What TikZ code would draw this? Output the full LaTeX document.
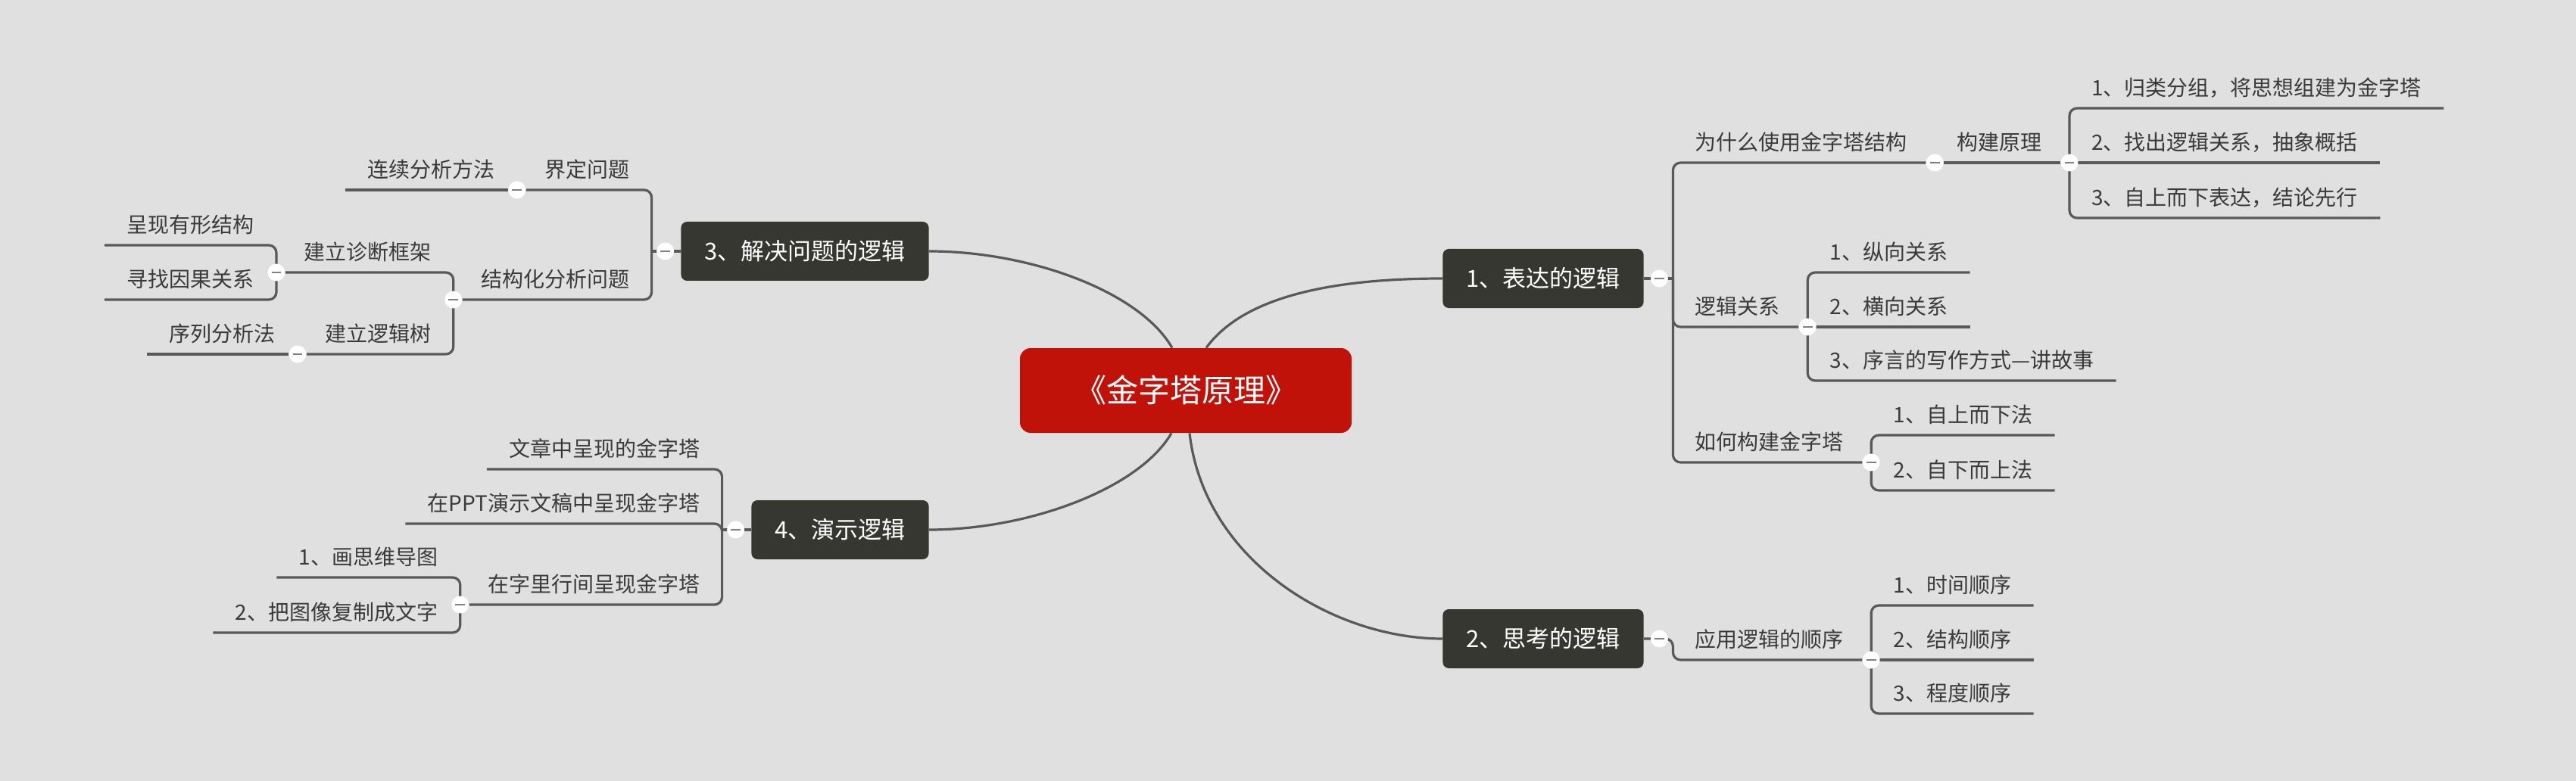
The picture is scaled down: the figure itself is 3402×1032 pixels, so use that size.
\documentclass[tikz,border=0pt]{standalone}
\usepackage{fontspec}
\setmainfont{Noto Sans CJK SC}
\usetikzlibrary{positioning,calc,backgrounds}

\definecolor{paper}{HTML}{E0E0E0}
\definecolor{ink}{HTML}{3A3A3A}
\definecolor{wire}{HTML}{595959}
\definecolor{boxfill}{HTML}{373732}
\definecolor{rootred}{HTML}{C1120A}
\definecolor{knobmark}{HTML}{808080}

\begin{document}
\begin{tikzpicture}[x=0.5pt, y=-0.5pt,
    rootbox/.style = {rectangle, rounded corners=7pt, fill=rootred, text=white, font=\fontsize{21}{24}\selectfont, minimum height=56pt, inner xsep=36pt, text height=17pt, text depth=1.7pt},
    mainbox/.style = {rectangle, rounded corners=4pt, fill=boxfill, text=white, font=\fontsize{15.5}{18}\selectfont, minimum height=39pt, inner xsep=15.5pt, text height=12.7pt, text depth=1.3pt},
    topic/.style = {font=\fontsize{14}{16}\selectfont, text=ink, inner xsep=14.5pt, inner ysep=6pt, text height=11pt, text depth=2pt},
    rtopic/.style = {topic, anchor=south west},
    ltopic/.style = {topic, anchor=south east},
    knob/.style = {circle, fill=white, inner sep=0pt, minimum size=11.5pt, path picture={\draw[knobmark, line width=1.1pt] ([xshift=-3.2pt]path picture bounding box.center) -- ([xshift=3.2pt]path picture bounding box.center);}},
    trunk/.style = {draw=wire, line width=1.6pt},
    branch/.style = {draw=wire, line width=1.6pt, rounded corners=5pt}
    ]
    \useasboundingbox (0,0) rectangle (3402,1032);

    \node[rootbox] (pyramid) at (1566,516) {《金字塔原理》};
    \node[mainbox, anchor=west] (express) at (1905,368) {1、表达的逻辑};
    \node[mainbox, anchor=west] (think) at (1905,844) {2、思考的逻辑};
    \node[mainbox, anchor=east] (solve) at (1227,332) {3、解决问题的逻辑};
    \node[mainbox, anchor=east] (present) at (1227,700) {4、演示逻辑};

    \node[knob, right=4.25pt of express] (c-express) {};
    \node[knob, right=4.25pt of think] (c-think) {};
    \node[knob, left=4.25pt of solve] (c-solve) {};
    \node[knob, left=4.25pt of present] (c-present) {};
    \coordinate[right=9pt of c-express.center] (j-express);
    \coordinate[right=9pt of c-think.center] (j-think);
    \coordinate[left=9pt of c-solve.center] (j-solve);
    \coordinate[left=9pt of c-present.center] (j-present);

    % 1
    \node[rtopic] (why) at ($(j-express)+(0,-153)$) {为什么使用金字塔结构};
    \node[knob] (c-why) at ([xshift=3.5pt]why.south east) {};
    \node[rtopic] (build) at (c-why) {构建原理};
    \node[knob] (c-build) at ([xshift=3.5pt]build.south east) {};
    \node[rtopic] (group) at ($(c-build)+(0,-72)$) {1、归类分组，将思想组建为金字塔};
    \node[rtopic] (abstract) at (c-build) {2、找出逻辑关系，抽象概括};
    \node[rtopic] (topdown-say) at ($(c-build)+(0,73)$) {3、自上而下表达，结论先行};
    \node[rtopic] (rel) at ($(j-express)+(0,64)$) {逻辑关系};
    \node[knob] (c-rel) at ([xshift=3.5pt]rel.south east) {};
    \node[rtopic] (vertical) at ($(c-rel)+(0,-72)$) {1、纵向关系};
    \node[rtopic] (horizontal) at (c-rel) {2、横向关系};
    \node[rtopic] (story) at ($(c-rel)+(0,71)$) {3、序言的写作方式—讲故事};
    \node[rtopic] (how) at ($(j-express)+(0,243)$) {如何构建金字塔};
    \node[knob] (c-how) at ([xshift=3.5pt]how.south east) {};
    \node[rtopic] (top-down) at ($(c-how)+(0,-36)$) {1、自上而下法};
    \node[rtopic] (bottom-up) at ($(c-how)+(0,37)$) {2、自下而上法};

    % 2
    \node[rtopic] (order) at ($(j-think)+(0,28)$) {应用逻辑的顺序};
    \node[knob] (c-order) at ([xshift=3.5pt]order.south east) {};
    \node[rtopic] (time) at ($(c-order)+(0,-72)$) {1、时间顺序};
    \node[rtopic] (structure) at (c-order) {2、结构顺序};
    \node[rtopic] (degree) at ($(c-order)+(0,71)$) {3、程度顺序};

    % 3
    \node[ltopic] (define) at ($(j-solve)+(0,-81)$) {界定问题};
    \node[knob] (c-define) at ([xshift=-3.5pt]define.south west) {};
    \node[ltopic] (continuous) at (c-define) {连续分析方法};
    \node[ltopic] (struct) at ($(j-solve)+(0,64)$) {结构化分析问题};
    \node[knob] (c-struct) at ([xshift=-3.5pt]struct.south west) {};
    \node[ltopic] (diag) at ($(c-struct)+(0,-36)$) {建立诊断框架};
    \node[knob] (c-diag) at ([xshift=-3.5pt]diag.south west) {};
    \node[ltopic] (visible) at ($(c-diag)+(0,-36)$) {呈现有形结构};
    \node[ltopic] (causal) at ($(c-diag)+(0,36)$) {寻找因果关系};
    \node[ltopic] (tree) at ($(c-struct)+(0,72)$) {建立逻辑树};
    \node[knob] (c-tree) at ([xshift=-3.5pt]tree.south west) {};
    \node[ltopic] (sequence) at (c-tree) {序列分析法};

    % 4
    \node[ltopic] (article) at ($(j-present)+(0,-80)$) {文章中呈现的金字塔};
    \node[ltopic] (ppt) at ($(j-present)+(0,-8)$) {在PPT演示文稿中呈现金字塔};
    \node[ltopic] (inline) at ($(j-present)+(0,99)$) {在字里行间呈现金字塔};
    \node[knob] (c-inline) at ([xshift=-3.5pt]inline.south west) {};
    \node[ltopic] (mindmap) at ($(c-inline)+(0,-36)$) {1、画思维导图};
    \node[ltopic] (copy-text) at ($(c-inline)+(0,37)$) {2、把图像复制成文字};

    \begin{scope}[on background layer]
    \fill[paper] (0,0) rectangle (3402,1032);

    \draw[trunk] ([xshift=13.5pt]pyramid.north) .. controls (1640,395) and (1750,368) .. (express.west);
    \draw[trunk] ([xshift=2.5pt]pyramid.south) .. controls (1590,740) and (1760,844) .. (think.west);
    \draw[trunk] ([xshift=-9pt]pyramid.north) .. controls (1505,385) and (1360,332) .. (solve.east);
    \draw[trunk] ([xshift=-9.5pt]pyramid.south) .. controls (1505,645) and (1360,700) .. (present.east);

    \draw[branch] (express.east) -- (j-express);
    \draw[branch] (j-express) |- (c-why);
    \draw[branch] (j-express) |- (c-rel);
    \draw[branch] (j-express) |- (c-how);
    \draw[branch] (c-why) -- (c-build);
    \draw[branch] (c-build.center) |- (group.south east);
    \draw[branch] (c-build.center) -- (abstract.south east);
    \draw[branch] (c-build.center) |- (topdown-say.south east);
    \draw[branch] (c-rel.center) |- (vertical.south east);
    \draw[branch] (c-rel.center) -- (horizontal.south east);
    \draw[branch] (c-rel.center) |- (story.south east);
    \draw[branch] (c-how.center) |- (top-down.south east);
    \draw[branch] (c-how.center) |- (bottom-up.south east);

    \draw[branch] (think.east) -- (j-think) |- (c-order);
    \draw[branch] (c-order.center) |- (time.south east);
    \draw[branch] (c-order.center) -- (structure.south east);
    \draw[branch] (c-order.center) |- (degree.south east);

    \draw[branch] (solve.west) -- (j-solve);
    \draw[branch] (j-solve) |- (c-define);
    \draw[branch] (j-solve) |- (c-struct);
    \draw[branch] (c-define) -- (continuous.south west);
    \draw[branch] (c-struct.center) |- (c-diag);
    \draw[branch] (c-struct.center) |- (c-tree);
    \draw[branch] (c-diag.center) |- (visible.south west);
    \draw[branch] (c-diag.center) |- (causal.south west);
    \draw[branch] (c-tree) -- (sequence.south west);

    \draw[branch] (present.west) -- (j-present);
    \draw[branch] (j-present) |- (article.south west);
    \draw[branch] (j-present) |- (ppt.south west);
    \draw[branch] (j-present) |- (c-inline);
    \draw[branch] (c-inline.center) |- (mindmap.south west);
    \draw[branch] (c-inline.center) |- (copy-text.south west);
    \end{scope}
\end{tikzpicture}
\end{document}
